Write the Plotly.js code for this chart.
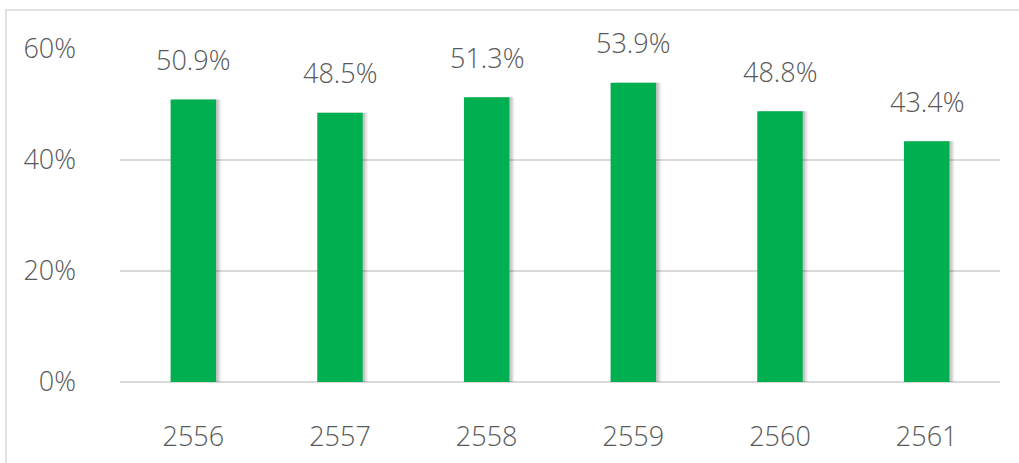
<!DOCTYPE html>
<html>
<head>
<meta charset="utf-8">
<script src="https://cdn.plot.ly/plotly-3.0.1.min.js"></script>
<style>html,body{margin:0;padding:0;background:#fff;}#chart{width:1019px;height:463px;}</style>
</head>
<body>
<div id="chart"></div>
<script>
const categories = ["2556", "2557", "2558", "2559", "2560", "2561"];
const values = [50.9, 48.5, 51.3, 53.9, 48.8, 43.4];
const valueLabels = ["50.9%", "48.5%", "51.3%", "53.9%", "48.8%", "43.4%"];
const yTickValues = [0, 20, 40, 60];
const yTickLabels = ["0%", "20%", "40%", "60%"];

const FONT = "Open Sans, sans-serif";
const TEXT_COLOR = "#595959";
const WEIGHT = 300;
const barW = 0.31;

const shadowLayers = [
  {dx: 0.035, a: 0.06},
  {dx: 0.025, a: 0.08},
  {dx: 0.015, a: 0.10}
];
const traces = shadowLayers.map(s => ({
  type: "bar",
  x: categories,
  y: values,
  width: barW,
  offset: -barW / 2 + s.dx,
  marker: {color: "rgba(0,0,0," + s.a + ")", line: {width: 0}},
  hoverinfo: "skip",
  showlegend: false
}));
traces.push({
  type: "bar",
  x: categories,
  y: values,
  width: barW,
  offset: -barW / 2,
  marker: {color: "#00B050", line: {width: 0}},
  showlegend: false
});

const annotations = categories.map((c, i) => ({
  x: i, y: values[i], xref: "x", yref: "y",
  text: valueLabels[i], showarrow: false,
  yanchor: "middle", yshift: 40,
  font: {family: FONT, size: 27, color: TEXT_COLOR, weight: WEIGHT}
}));

const layout = {
  width: 1019, height: 463,
  margin: {l: 120, r: 19, t: 49, b: 81},
  paper_bgcolor: "#fff", plot_bgcolor: "#fff",
  barmode: "overlay",
  font: {family: FONT, size: 27, color: TEXT_COLOR, weight: WEIGHT},
  xaxis: {
    type: "category",
    range: [-0.5, categories.length - 0.5],
    autorange: false,
    showgrid: false, zeroline: false, showline: false,
    ticks: "", ticklabelstandoff: 36,
    tickfont: {family: FONT, size: 27, color: TEXT_COLOR, weight: WEIGHT}
  },
  yaxis: {
    range: [0, 60], autorange: false,
    tickvals: yTickValues, ticktext: yTickLabels,
    showgrid: true, gridcolor: "#d9d9d9", gridwidth: 1.3,
    zeroline: true, zerolinecolor: "#d9d9d9", zerolinewidth: 1.3,
    showline: false, ticks: "", ticklabelstandoff: 43,
    tickfont: {family: FONT, size: 27, color: TEXT_COLOR, weight: WEIGHT}
  },
  annotations: annotations,
  shapes: [{
    type: "rect", xref: "paper", yref: "paper",
    x0: (6 - 120) / 880, x1: 1.05,
    y0: -0.5, y1: (382 - 10) / 333,
    line: {color: "#d9d9d9", width: 1.5}, fillcolor: "rgba(0,0,0,0)",
    layer: "below"
  }]
};

Plotly.newPlot("chart", traces, layout, {displayModeBar: false, staticPlot: true});
</script>
</body>
</html>
